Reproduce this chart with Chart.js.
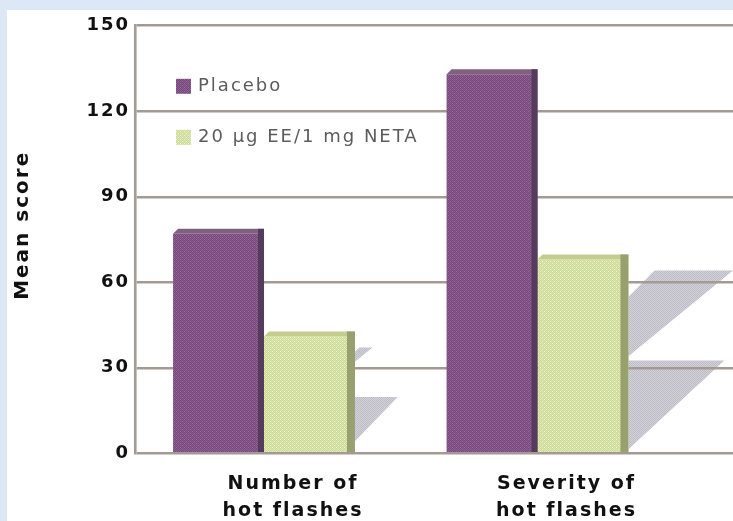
<!DOCTYPE html>
<html>
<head>
<meta charset="utf-8">
<script src="https://cdn.jsdelivr.net/npm/chart.js@4.4.1/dist/chart.umd.min.js"></script>
<style>
  html, body { margin: 0; padding: 0; background: #dce8f6; }
  #panel { position: absolute; left: 7px; top: 10px; width: 726px; height: 511px; background: #ffffff; }
  canvas { display: block; }
</style>
</head>
<body>
<div id="panel"><canvas id="chart" width="726" height="511"></canvas></div>
<script>
// Categories (two-line labels), series names and mean scores
const categories = [["Number of", "hot flashes"], ["Severity of", "hot flashes"]];
const seriesNames = ["Placebo", "20 \u00b5g EE/1 mg NETA"];
const placeboScores = [77, 133];
const netaScores = [41, 68];
const yTickValues = [0, 30, 60, 90, 120, 150];
const yAxisTitle = "Mean score";

// Small dithered fills for the printed-halftone look
function dither(base, alt, spot) {
  const cv = document.createElement('canvas');
  cv.width = 4; cv.height = 4;
  const g = cv.getContext('2d');
  g.fillStyle = base; g.fillRect(0, 0, 4, 4);
  g.fillStyle = alt;
  for (let y = 0; y < 4; y++) for (let x = 0; x < 4; x++) if ((x + y) % 2 === 0) g.fillRect(x, y, 1, 1);
  if (spot) { g.fillStyle = spot; g.fillRect(1, 1, 1, 1); g.fillRect(3, 3, 1, 1); }
  return g.createPattern(cv, 'repeat');
}
const purpleFill = dither('#6e4e80', '#92588a', '#a8649a');
const greenFill = dither('#cfdb9c', '#dbe5a8', '#eef2d0');
const shadowFill = dither('#c1bcc4', '#cfd1dc');

// Extra faces that give each bar its boxy look
const faces = [
  { side: 6, sideColor: '#553c5c', topColor: '#80607e' },
  { side: 8, sideColor: '#98a070', topColor: '#c4cd8e' }
];
const bevel = 5;
const FONT = '"DejaVu Sans", "Liberation Sans", sans-serif';

const boxLook = {
  id: 'boxLook',
  beforeLayout(chart) { chart.ctx.letterSpacing = '2px'; },
  beforeDraw(chart) {
    const ctx = chart.ctx;
    ctx.letterSpacing = '2px';
    const a = chart.chartArea;
    // grey cast shadows to the right of the second series
    ctx.save();
    ctx.beginPath();
    ctx.rect(a.left, a.top, a.right - a.left, a.bottom - a.top);
    ctx.clip();
    ctx.fillStyle = shadowFill;
    chart.getDatasetMeta(1).data.forEach(bar => {
      const R = bar.x + bar.width / 2;
      const yT = bar.y, yB = bar.base, H = yB - yT;
      // upper piece
      const sA = Math.max(0, 1.13 * (H - 100));
      const tA = yT + 11, c = 0.25 * sA;
      if (sA > 0) {
        ctx.beginPath();
        ctx.moveTo(R, tA + c);
        ctx.lineTo(R + c, tA);
        ctx.lineTo(R + sA, tA);
        ctx.lineTo(R, tA + 0.82 * sA);
        ctx.closePath();
        ctx.fill();
      }
      // lower piece
      const tB = yB - 0.475 * H;
      const wB = 0.69 * H - 37, hB = 0.58 * H - 23;
      ctx.beginPath();
      ctx.moveTo(R, tB);
      ctx.lineTo(R + wB, tB);
      ctx.lineTo(R, tB + hB);
      ctx.closePath();
      ctx.fill();
    });
    ctx.restore();
  },
  afterDatasetsDraw(chart) {
    const ctx = chart.ctx;
    ctx.save();
    chart.data.datasets.forEach((ds, di) => {
      const f = faces[di];
      chart.getDatasetMeta(di).data.forEach(bar => {
        const l = bar.x - bar.width / 2, r = bar.x + bar.width / 2;
        const t = bar.y, b = bar.base;
        ctx.fillStyle = f.topColor;
        ctx.beginPath();
        ctx.moveTo(l, t);
        ctx.lineTo(l + bevel, t - bevel);
        ctx.lineTo(r, t - bevel);
        ctx.lineTo(r, t);
        ctx.closePath();
        ctx.fill();
        ctx.fillStyle = f.sideColor;
        ctx.fillRect(r - f.side, t - bevel, f.side, b - t + bevel);
      });
    });
    ctx.restore();
  },
  afterDraw(chart) {
    const ctx = chart.ctx;
    const a = chart.chartArea;
    ctx.save();
    ctx.letterSpacing = '2px';
    // rotated axis title, sitting a little above the middle of the axis
    ctx.save();
    ctx.translate(16, a.top + 199.5);
    ctx.rotate(-Math.PI / 2);
    ctx.font = 'bold 20px ' + FONT;
    ctx.fillStyle = '#111111';
    ctx.textAlign = 'center';
    ctx.textBaseline = 'middle';
    ctx.fillText(yAxisTitle, 0, 0);
    ctx.restore();
    // legend inside the plot, top left
    ctx.font = '18px ' + FONT;
    ctx.textBaseline = 'middle';
    ctx.textAlign = 'left';
    chart.data.datasets.forEach((ds, i) => {
      const cy = a.top + 60 + i * 51;
      ctx.fillStyle = ds.backgroundColor;
      ctx.fillRect(a.left + 41, cy - 7, 15, 15);
      ctx.fillStyle = '#5c5c5c';
      ctx.fillText(ds.label, a.left + 63, cy + 1);
    });
    ctx.restore();
  }
};

const gridColor = '#a39a93';

new Chart(document.getElementById('chart'), {
  type: 'bar',
  data: {
    datasets: [
      {
        label: seriesNames[0],
        data: placeboScores.map((v, i) => ({ x: i, y: v })),
        backgroundColor: purpleFill,
        borderWidth: 0
      },
      {
        label: seriesNames[1],
        data: netaScores.map((v, i) => ({ x: i, y: v })),
        backgroundColor: greenFill,
        borderWidth: 0
      }
    ]
  },
  options: {
    responsive: false,
    animation: false,
    events: [],
    devicePixelRatio: 1,
    categoryPercentage: 0.665,
    barPercentage: 1.0,
    layout: { padding: { top: 13, left: 0, right: 0, bottom: 0 } },
    plugins: {
      legend: { display: false },
      tooltip: { enabled: false }
    },
    scales: {
      x: {
        type: 'linear',
        offset: false,
        min: -0.4717,
        max: 1.7148,
        afterBuildTicks(scale) { scale.ticks = categories.map((c, i) => ({ value: i })); },
        afterFit(scale) { scale.height = 67.7; },
        grid: { display: false, drawTicks: false, offset: false },
        border: { display: false },
        ticks: {
          callback: (v, i) => categories[i],
          maxRotation: 0,
          autoSkip: false,
          labelOffset: 29,
          padding: 17,
          color: '#111111',
          font: { family: FONT, size: 19, weight: 'bold', lineHeight: '27px' }
        }
      },
      y: {
        min: 0,
        max: 150,
        afterBuildTicks(scale) { scale.ticks = yTickValues.map(v => ({ value: v })); },
        afterFit(scale) { scale.width = 128; },
        grid: { color: gridColor, lineWidth: 2.6, drawTicks: false },
        border: { display: true, color: gridColor, width: 2.6 },
        ticks: {
          padding: 5,
          color: '#111111',
          font: { family: FONT, size: 18, weight: 'bold' }
        },
        title: { display: false }
      }
    }
  },
  plugins: [boxLook]
});
</script>
</body>
</html>
